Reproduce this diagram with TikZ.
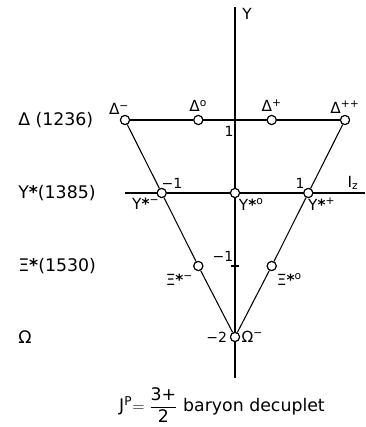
\documentclass[tikz,border=0pt]{standalone}
\usepackage{amsmath}
\usepackage{fontspec}
\setmainfont{DejaVu Sans}
\usepackage{tikz}
\usetikzlibrary{positioning}
\newcommand{\Dl}{Δ}
\newcommand{\Xs}{Ξ\textbf{*}}
\newcommand{\Ys}{Y\textbf{*}}

\begin{document}
\begin{tikzpicture}[x=0.75pt, y=-0.75pt,
  dot/.style={draw, circle, fill=white, inner sep=0pt, minimum size=6.8pt, line width=0.8pt},
  ln/.style={line width=0.8pt},
  lab/.style={font=\fontsize{11.5}{13}\selectfont, inner sep=1pt},
  tk/.style={font=\fontsize{10.5}{12}\selectfont, inner sep=1pt},
  row/.style={font=\fontsize{13}{15}\selectfont, anchor=west, inner sep=0pt}
]
\useasboundingbox (0,0) rectangle (365,427);
% axes
\coordinate (ytop) at (235,7);
\coordinate (ybot) at (235,378);
\coordinate (xl) at (125,193);
\coordinate (xr) at (365,193);
\draw[ln] (ytop) -- (ybot);
\draw[ln] (xl) -- (xr);
\draw[ln] (231,266) -- (239,266);
% decuplet
\node[dot] (dm) at (125,120) {};
\node[dot] (dz) at (198.3,120) {};
\node[dot] (dp) at (271.7,120) {};
\node[dot] (dpp) at (345,120) {};
\node[dot] (ym) at (161.7,193) {};
\node[dot] (yz) at (235,193) {};
\node[dot] (yp) at (308.3,193) {};
\node[dot] (xm) at (198.3,266) {};
\node[dot] (xz) at (271.7,266) {};
\node[dot] (om) at (235,337) {};
\draw[ln] (dm) -- (dz) -- (dp) -- (dpp);
\draw[ln] (dm) -- (ym) -- (xm) -- (om);
\draw[ln] (dpp) -- (yp) -- (xz) -- (om);
\foreach \n in {dm,dz,dp,dpp,ym,yz,yp,xm,xz,om}
  \node[dot] at (\n) {};
% particle labels
\node[lab, above left=0pt and -7pt of dm] {\Dl\textsuperscript{−}};
\node[lab, above=1pt of dz] {\Dl\textsuperscript{o}};
\node[lab, above=1pt of dp] {\Dl\textsuperscript{+}};
\node[lab, above=0pt of dpp] {\Dl\textsuperscript{++}};
\node[lab, below left=0pt and -2pt of ym] {\Ys\textsuperscript{−}};
\node[lab, below right=0pt and -1pt of yz] {\Ys\textsuperscript{o}};
\node[lab, below right=0pt and -4pt of yp] {\Ys\textsuperscript{+}};
\node[lab, below left=2pt and 0pt of xm] {\Xs\textsuperscript{−}};
\node[lab, below right=2pt and 0pt of xz] {\Xs\textsuperscript{o}};
\node[lab, right=0pt of om] {Ω\textsuperscript{−}};
% scale labels
\node[tk, left=1pt of om] {−2};
\node[tk] (ym1) at (223,256) {−1};
\node[tk] (yp1) at (229,131) {1};
\node[tk] (xm1) at (172,183) {−1};
\node[tk] (xp1) at (300,183) {1};
\node[lab] (ylab) at (247,14) {Y};
\node[lab] (izlab) at (353,183) {I\textsubscript{z}};
% multiplets
\node[row] (rd) at (18,120) {\Dl\ (1236)};
\node[row] (ry) at (18,193) {\Ys(1385)};
\node[row] (rx) at (18,266) {\Xs(1530)};
\node[row] (ro) at (18,337) {Ω};
\node[row, anchor=center] (cap) at (222,405) {J\textsuperscript{P}$=\dfrac{\text{3+}}{\text{2}}$ baryon decuplet};
\end{tikzpicture}
\end{document}
